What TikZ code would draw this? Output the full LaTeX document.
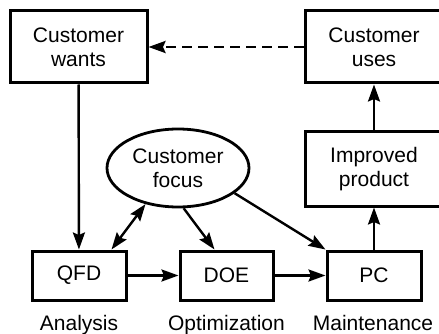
\documentclass[tikz,border=0pt]{standalone}
\usepackage{fontspec}
\setmainfont{Liberation Sans}
\usetikzlibrary{arrows.meta,calc,shapes.geometric}
\begin{document}
\begin{tikzpicture}[x=1pt,y=-1pt,
  txt/.style={font=\fontsize{21}{24}\selectfont, align=center, inner sep=0pt},
  box/.style={txt, draw, line width=3pt, minimum width=#1, minimum height=49pt},
  bigbox/.style={txt, draw, line width=3pt, minimum width=#1, minimum height=72pt},
  oval/.style={txt, draw, ellipse, line width=2.8pt, minimum width=142pt, minimum height=78pt},
  tip/.style={},
  arr/.style={line width=2.4pt, -{Stealth[length=17pt,width=12pt,inset=2.5pt]}},
  darr/.style={line width=2.4pt, {Stealth[length=17pt,width=12pt,inset=2.5pt]}-{Stealth[length=17pt,width=12pt,inset=2.5pt]}}]
\useasboundingbox (0,0) rectangle (439,334);
\node[bigbox=137pt] (cw) at (78.5,47) {Customer\\wants};
\node[bigbox=138pt] (cu) at (374,47) {Customer\\uses};
\node[bigbox=138pt, minimum height=74pt] (ip) at (374,169) {Improved\\product};
\node[oval] (foc) at (178,168) {Customer\\focus};
\node[box=94pt] (qfd) at (79,275.5) {QFD};
\node[box=93pt] (doe) at (226.5,275.5) {DOE};
\node[box=94pt] (pc) at (374,275.5) {PC};
\node[txt, anchor=base] (l1) at (79,330) {Analysis};
\node[txt, anchor=base] (l2) at (226.5,330) {Optimization};
\node[txt, anchor=base] (l3) at (373,330) {Maintenance};
\draw[arr, line width=2.8pt, dash pattern=on 10pt off 6pt] (cu.west) -- (cw.east);
\draw[arr] (cw) -- (qfd);
\draw[arr] (qfd) -- (doe);
\draw[arr] (doe) -- (pc);
\draw[arr] (pc) -- (ip);
\draw[arr] (ip) -- (cu);
\draw[darr] ([xshift=-16pt]qfd.north east) -- (foc.-132);
\draw[arr] (foc.-82) -- ([xshift=-12pt]doe.north);
\draw[arr] (foc.-24) -- (pc.north west);
\end{tikzpicture}
\end{document}
